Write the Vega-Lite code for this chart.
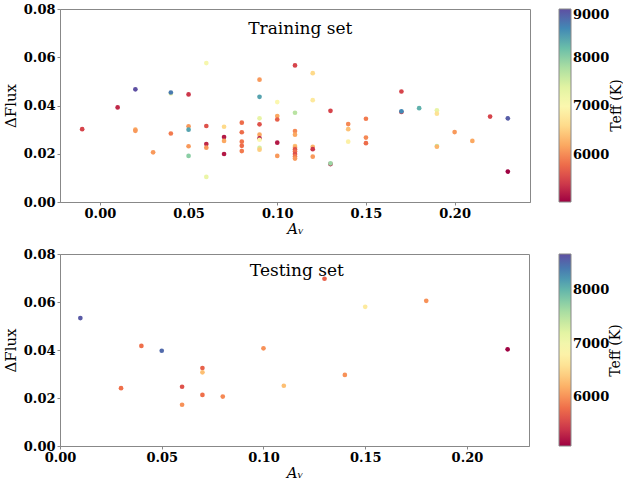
{
  "$schema": "https://vega.github.io/schema/vega-lite/v6.json",
  "padding": {"left": 2, "top": 2, "right": 0, "bottom": 0},
  "background": "white",
  "config": {
    "font": "DejaVu Serif",
    "view": {"stroke": "#888888", "strokeWidth": 1},
    "axis": {
      "labelFont": "DejaVu Serif", "labelFontSize": 13, "labelFontWeight": "bold", "labelColor": "#000000",
      "titleFont": "DejaVu Serif", "titleFontSize": 15, "titleFontWeight": "normal", "titleColor": "#000000",
      "grid": false, "domainColor": "#888888", "tickColor": "#888888", "tickSize": 3, "labelPadding": 2, "labelFlush": false
    },
    "legend": {
      "labelFont": "DejaVu Serif", "labelFontSize": 13, "labelFontWeight": "bold", "labelColor": "#000000", "labelOffset": 3,
      "gradientThickness": 12, "gradientStrokeColor": "#888888", "gradientStrokeWidth": 1, "padding": 0
    }
  },
  "datasets": {
    "train": [
      {"av": -0.01, "dflux": 0.0302, "teff": 5500},
      {"av": 0.01, "dflux": 0.0392, "teff": 5300},
      {"av": 0.02, "dflux": 0.0467, "teff": 9000},
      {"av": 0.02, "dflux": 0.0300, "teff": 6200},
      {"av": 0.02, "dflux": 0.0295, "teff": 6100},
      {"av": 0.03, "dflux": 0.0206, "teff": 6100},
      {"av": 0.04, "dflux": 0.0450, "teff": 7200},
      {"av": 0.04, "dflux": 0.0454, "teff": 8700},
      {"av": 0.04, "dflux": 0.0284, "teff": 5900},
      {"av": 0.05, "dflux": 0.0446, "teff": 5400},
      {"av": 0.05, "dflux": 0.0314, "teff": 6100},
      {"av": 0.05, "dflux": 0.0300, "teff": 8400},
      {"av": 0.05, "dflux": 0.0231, "teff": 6100},
      {"av": 0.05, "dflux": 0.0191, "teff": 8000},
      {"av": 0.06, "dflux": 0.0576, "teff": 7100},
      {"av": 0.06, "dflux": 0.0315, "teff": 5600},
      {"av": 0.06, "dflux": 0.0240, "teff": 5300},
      {"av": 0.06, "dflux": 0.0225, "teff": 6100},
      {"av": 0.06, "dflux": 0.0104, "teff": 7250},
      {"av": 0.07, "dflux": 0.0312, "teff": 6600},
      {"av": 0.07, "dflux": 0.0269, "teff": 5200},
      {"av": 0.07, "dflux": 0.0253, "teff": 6200},
      {"av": 0.07, "dflux": 0.0199, "teff": 5200},
      {"av": 0.08, "dflux": 0.0329, "teff": 5800},
      {"av": 0.08, "dflux": 0.0289, "teff": 5800},
      {"av": 0.08, "dflux": 0.0250, "teff": 5850},
      {"av": 0.08, "dflux": 0.0233, "teff": 5800},
      {"av": 0.08, "dflux": 0.0211, "teff": 5900},
      {"av": 0.09, "dflux": 0.0507, "teff": 6100},
      {"av": 0.09, "dflux": 0.0436, "teff": 8400},
      {"av": 0.09, "dflux": 0.0347, "teff": 7300},
      {"av": 0.09, "dflux": 0.0322, "teff": 5600},
      {"av": 0.09, "dflux": 0.0279, "teff": 6200},
      {"av": 0.09, "dflux": 0.0264, "teff": 5200},
      {"av": 0.09, "dflux": 0.0258, "teff": 7000},
      {"av": 0.09, "dflux": 0.0224, "teff": 7500},
      {"av": 0.09, "dflux": 0.0217, "teff": 6500},
      {"av": 0.10, "dflux": 0.0414, "teff": 7000},
      {"av": 0.10, "dflux": 0.0356, "teff": 6200},
      {"av": 0.10, "dflux": 0.0342, "teff": 5700},
      {"av": 0.10, "dflux": 0.0246, "teff": 5200},
      {"av": 0.10, "dflux": 0.0191, "teff": 6100},
      {"av": 0.11, "dflux": 0.0566, "teff": 5500},
      {"av": 0.11, "dflux": 0.0370, "teff": 7700},
      {"av": 0.11, "dflux": 0.0294, "teff": 6000},
      {"av": 0.11, "dflux": 0.0279, "teff": 6200},
      {"av": 0.11, "dflux": 0.0232, "teff": 6400},
      {"av": 0.11, "dflux": 0.0225, "teff": 6200},
      {"av": 0.11, "dflux": 0.0218, "teff": 5600},
      {"av": 0.11, "dflux": 0.0209, "teff": 5800},
      {"av": 0.11, "dflux": 0.0199, "teff": 5600},
      {"av": 0.11, "dflux": 0.0189, "teff": 5900},
      {"av": 0.11, "dflux": 0.0180, "teff": 6100},
      {"av": 0.12, "dflux": 0.0534, "teff": 6600},
      {"av": 0.12, "dflux": 0.0422, "teff": 6800},
      {"av": 0.12, "dflux": 0.0229, "teff": 6300},
      {"av": 0.12, "dflux": 0.0219, "teff": 5400},
      {"av": 0.12, "dflux": 0.0188, "teff": 6100},
      {"av": 0.13, "dflux": 0.0378, "teff": 5500},
      {"av": 0.13, "dflux": 0.0157, "teff": 5200},
      {"av": 0.13, "dflux": 0.0160, "teff": 7900},
      {"av": 0.14, "dflux": 0.0323, "teff": 6000},
      {"av": 0.14, "dflux": 0.0302, "teff": 6400},
      {"av": 0.14, "dflux": 0.0250, "teff": 6900},
      {"av": 0.15, "dflux": 0.0345, "teff": 5900},
      {"av": 0.15, "dflux": 0.0267, "teff": 6000},
      {"av": 0.15, "dflux": 0.0244, "teff": 5800},
      {"av": 0.17, "dflux": 0.0458, "teff": 5500},
      {"av": 0.17, "dflux": 0.0373, "teff": 5500},
      {"av": 0.17, "dflux": 0.0376, "teff": 8600},
      {"av": 0.18, "dflux": 0.0389, "teff": 8300},
      {"av": 0.19, "dflux": 0.0380, "teff": 7300},
      {"av": 0.19, "dflux": 0.0366, "teff": 6700},
      {"av": 0.19, "dflux": 0.0232, "teff": 7600},
      {"av": 0.19, "dflux": 0.0229, "teff": 6300},
      {"av": 0.20, "dflux": 0.0290, "teff": 6100},
      {"av": 0.21, "dflux": 0.0253, "teff": 6200},
      {"av": 0.22, "dflux": 0.0354, "teff": 5500},
      {"av": 0.23, "dflux": 0.0347, "teff": 8900},
      {"av": 0.23, "dflux": 0.0126, "teff": 5050}
    ],
    "test": [
      {"av": 0.01, "dflux": 0.0533, "teff": 8600},
      {"av": 0.03, "dflux": 0.0241, "teff": 5800},
      {"av": 0.04, "dflux": 0.0417, "teff": 5800},
      {"av": 0.05, "dflux": 0.0397, "teff": 8500},
      {"av": 0.06, "dflux": 0.0247, "teff": 5600},
      {"av": 0.06, "dflux": 0.0172, "teff": 6000},
      {"av": 0.07, "dflux": 0.0325, "teff": 5700},
      {"av": 0.07, "dflux": 0.0307, "teff": 6300},
      {"av": 0.07, "dflux": 0.0213, "teff": 5800},
      {"av": 0.08, "dflux": 0.0206, "teff": 5950},
      {"av": 0.10, "dflux": 0.0407, "teff": 6000},
      {"av": 0.11, "dflux": 0.0251, "teff": 6300},
      {"av": 0.13, "dflux": 0.0697, "teff": 5700},
      {"av": 0.14, "dflux": 0.0296, "teff": 6000},
      {"av": 0.15, "dflux": 0.0580, "teff": 6700},
      {"av": 0.18, "dflux": 0.0605, "teff": 6000},
      {"av": 0.22, "dflux": 0.0403, "teff": 5100}
    ]
  },
  "vconcat": [
    {
      "width": 470,
      "height": 193,
      "layer": [
        {
          "layer": [
            {
              "data": {"name": "train"},
              "mark": {"type": "circle", "size": 22, "opacity": 1},
              "encoding": {
                "x": {"field": "av", "type": "quantitative", "scale": {"domain": [-0.0225, 0.2425], "nice": false, "zero": false},
                      "axis": {"values": [0, 0.05, 0.1, 0.15, 0.2], "format": ".2f", "title": "Aᵥ", "titleFontStyle": "italic", "titlePadding": 1}},
                "y": {"field": "dflux", "type": "quantitative", "scale": {"domain": [0, 0.08], "nice": false},
                      "axis": {"values": [0, 0.02, 0.04, 0.06, 0.08], "format": ".2f", "title": "ΔFlux", "titlePadding": 5}},
                "color": {"field": "teff", "type": "quantitative",
                          "scale": {"scheme": "spectral", "domain": [5040, 9000], "nice": false},
                          "legend": {"title": null, "orient": "none", "legendX": 499, "legendY": 0, "format": "d", "values": [6000, 7000, 8000, 9000], "gradientLength": 193}}
              }
            },
            {
              "data": {"values": [{"label": "Training set"}]},
              "mark": {"type": "text", "fontSize": 17, "font": "DejaVu Serif", "color": "#000000"},
              "encoding": {"x": {"datum": 0.113}, "y": {"datum": 0.0719}, "text": {"field": "label"}}
            }
          ]
        },
        {
          "data": {"name": "train"},
          "mark": {"type": "point", "opacity": 0},
          "encoding": {
            "x": {"field": "av", "type": "quantitative"},
            "y": {"field": "teff", "type": "quantitative", "scale": {"domain": [5040, 9000], "nice": false, "zero": false},
                  "axis": {"orient": "right", "labels": false, "ticks": false, "domain": false, "title": "Teff (K)", "titleFontSize": 14,
                           "titleAngle": -90, "titleX": 86, "titleY": 96, "titleAlign": "center", "titleBaseline": "middle"}}
          }
        }
      ],
      "resolve": {"scale": {"y": "independent"}}
    },
    {
      "width": 469,
      "height": 192,
      "layer": [
        {
          "layer": [
            {
              "data": {"name": "test"},
              "mark": {"type": "circle", "size": 22, "opacity": 1},
              "encoding": {
                "x": {"field": "av", "type": "quantitative", "scale": {"domain": [0, 0.2305], "nice": false, "zero": false},
                      "axis": {"values": [0, 0.05, 0.1, 0.15, 0.2], "format": ".2f", "title": "Aᵥ", "titleFontStyle": "italic", "titlePadding": 1}},
                "y": {"field": "dflux", "type": "quantitative", "scale": {"domain": [0, 0.08], "nice": false},
                      "axis": {"values": [0, 0.02, 0.04, 0.06, 0.08], "format": ".2f", "title": "ΔFlux", "titlePadding": 5}},
                "color": {"field": "teff", "type": "quantitative",
                          "scale": {"scheme": "spectral", "domain": [5090, 8670], "nice": false},
                          "legend": {"title": null, "orient": "none", "legendX": 499, "legendY": 0, "format": "d", "values": [6000, 7000, 8000], "gradientLength": 192}}
              }
            },
            {
              "data": {"values": [{"label": "Testing set"}]},
              "mark": {"type": "text", "fontSize": 17, "font": "DejaVu Serif", "color": "#000000"},
              "encoding": {"x": {"datum": 0.1164}, "y": {"datum": 0.0728}, "text": {"field": "label"}}
            }
          ]
        },
        {
          "data": {"name": "test"},
          "mark": {"type": "point", "opacity": 0},
          "encoding": {
            "x": {"field": "av", "type": "quantitative"},
            "y": {"field": "teff", "type": "quantitative", "scale": {"domain": [5090, 8670], "nice": false, "zero": false},
                  "axis": {"orient": "right", "labels": false, "ticks": false, "domain": false, "title": "Teff (K)", "titleFontSize": 14,
                           "titleAngle": -90, "titleX": 86, "titleY": 96, "titleAlign": "center", "titleBaseline": "middle"}}
          }
        }
      ],
      "resolve": {"scale": {"y": "independent"}}
    }
  ],
  "spacing": 10,
  "resolve": {"scale": {"color": "independent", "x": "independent"}, "legend": {"color": "independent"}}
}
